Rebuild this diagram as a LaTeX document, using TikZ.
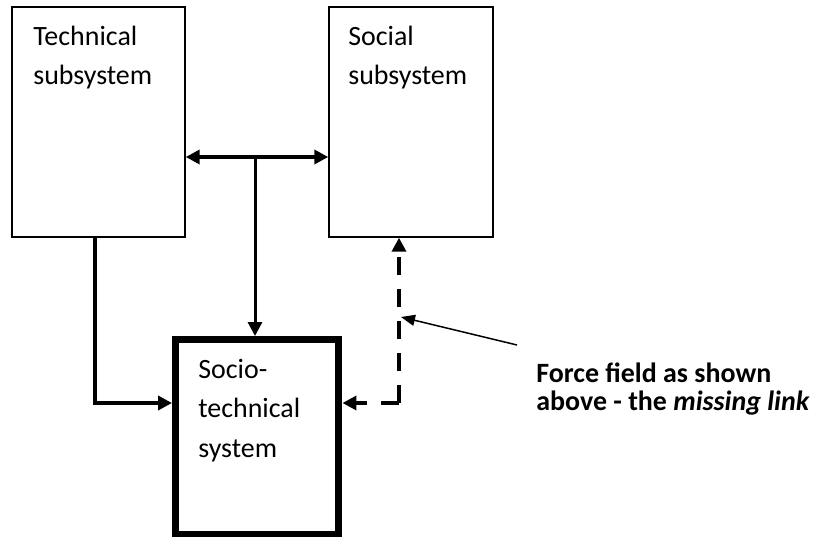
\documentclass[tikz,border=0pt]{standalone}
\usepackage{fontspec}
\setmainfont{Carlito}
\usetikzlibrary{arrows.meta}
\tikzstyle{sub} = [draw=black, line width=0.03cm, minimum height=4.6cm, inner sep=0pt]
\tikzstyle{sys} = [draw=black, line width=0.14cm, minimum width=3.27cm, minimum height=3.91cm, inner sep=0pt]
\tikzstyle{txt} = [anchor=base west, align=left, inner sep=0pt, font={\fontsize{15.9}{22.2}\selectfont}]
\tikzstyle{note} = [txt, font={\fontsize{15.9}{15.9}\selectfont\bfseries}]
\tikzstyle{link} = [line width=0.08cm, -{Triangle[length=0.28cm,width=0.28cm]}]
\tikzstyle{both} = [link, {Triangle[length=0.28cm,width=0.28cm]}-{Triangle[length=0.28cm,width=0.28cm]}]
\tikzstyle{dashlink} = [link, dash pattern=on 0.36cm off 0.28cm]
\tikzstyle{pointer} = [line width=0.03cm, -{Triangle[length=0.28cm,width=0.22cm]}]

\begin{document}
\begin{tikzpicture}[x=0.02cm, y=-0.02cm]
    \useasboundingbox (0,0) rectangle (818,537);
    \node[sub, minimum width=3.46cm](tech) at (98.5,122){};
    \node[sub, minimum width=3.28cm](social) at (411,122){};
    \node[sys](socio) at (257.25,437.25){};
    % base anchor sits on the last line
    \node[txt](techtext) at (33,85){Technical\\subsystem};
    \node[txt](socialtext) at (348,85){Social\\subsystem};
    \node[txt](sociotext) at (198,457){Socio-\\technical\\system};
    \node[note](force) at (536,410){Force field as shown\\above - the \textit{missing link}};
    \coordinate(hub) at (255,157);
    \coordinate(corner) at (399,403);
    \coordinate(tail) at (517,345);
    \coordinate(field) at (401,317);
    \draw[both](hub -| tech.east) -- (hub -| social.west);
    \draw[link, line width=0.06cm](hub) -- (hub |- socio.north);
    \draw[link]([xshift=-0.07cm]tech.south) |- (corner -| socio.west);
    \draw[dashlink](corner) -- (corner -| socio.east);
    \draw[dashlink](corner) -- (corner |- social.south);
    \draw[pointer](tail) -- (field);
  \end{tikzpicture}
\end{document}
